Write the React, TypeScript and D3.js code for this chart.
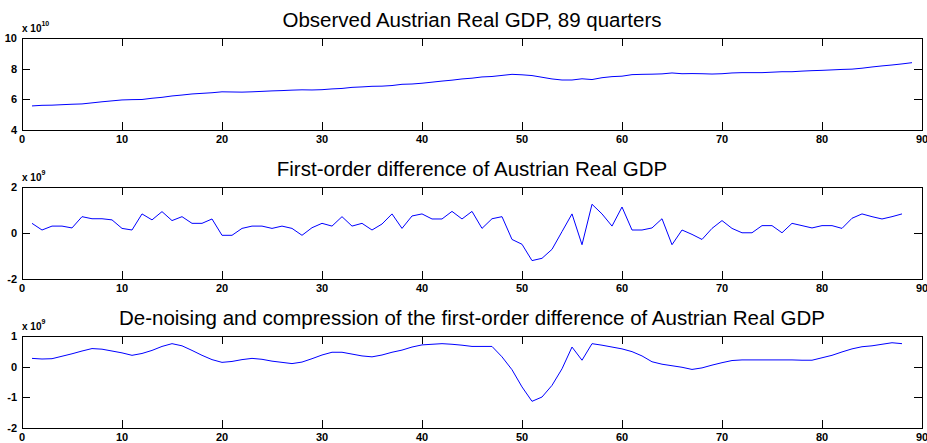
import React, { useEffect, useRef } from 'react';
import * as d3 from 'd3';

// observed real GDP, x 10^10, quarters 1..89
const gdp = [
  5.57, 5.61, 5.62, 5.65, 5.68, 5.70, 5.77, 5.84, 5.90, 5.96,
  5.98, 5.99, 6.07, 6.13, 6.22, 6.28, 6.35, 6.39, 6.43, 6.49,
  6.48, 6.47, 6.49, 6.52, 6.55, 6.57, 6.60, 6.62, 6.61, 6.63,
  6.68, 6.71, 6.78, 6.81, 6.85, 6.86, 6.90, 6.98, 7.00, 7.05,
  7.12, 7.19, 7.25, 7.33, 7.38, 7.46, 7.49, 7.56, 7.63, 7.60,
  7.55, 7.44, 7.33, 7.26, 7.26, 7.34, 7.29, 7.41, 7.48, 7.51,
  7.61, 7.63, 7.64, 7.66, 7.72, 7.67, 7.68, 7.67, 7.65, 7.67,
  7.72, 7.74, 7.74, 7.74, 7.77, 7.80, 7.80, 7.84, 7.87, 7.89,
  7.92, 7.95, 7.97, 8.03, 8.11, 8.18, 8.24, 8.31, 8.39
];

// first-order difference, x 10^9
const gdpDiff = [
  0.42, 0.13, 0.30, 0.30, 0.22, 0.71, 0.62, 0.62, 0.57, 0.20,
  0.13, 0.83, 0.57, 0.93, 0.54, 0.71, 0.42, 0.42, 0.61, -0.10,
  -0.10, 0.20, 0.30, 0.30, 0.20, 0.30, 0.20, -0.10, 0.23, 0.42,
  0.30, 0.71, 0.30, 0.42, 0.13, 0.39, 0.83, 0.20, 0.74, 0.83,
  0.61, 0.61, 0.94, 0.61, 0.94, 0.20, 0.62, 0.71, -0.28, -0.49,
  -1.20, -1.10, -0.71, 0.06, 0.83, -0.51, 1.25, 0.83, 0.30, 1.13,
  0.13, 0.13, 0.22, 0.62, -0.51, 0.13, -0.06, -0.28, 0.20, 0.54,
  0.20, 0.01, 0.01, 0.32, 0.32, 0.01, 0.42, 0.32, 0.22, 0.32,
  0.32, 0.20, 0.64, 0.83, 0.71, 0.61, 0.71, 0.83
];

// de-noised and compressed difference, x 10^9
const gdpDenoised = [
  0.27, 0.25, 0.26, 0.34, 0.42, 0.51, 0.59, 0.57, 0.51, 0.45,
  0.37, 0.43, 0.53, 0.66, 0.75, 0.68, 0.53, 0.37, 0.23, 0.14,
  0.17, 0.23, 0.27, 0.24, 0.18, 0.14, 0.10, 0.15, 0.26, 0.38,
  0.47, 0.47, 0.41, 0.35, 0.32, 0.38, 0.47, 0.54, 0.64, 0.71,
  0.73, 0.75, 0.73, 0.70, 0.66, 0.66, 0.66, 0.32, -0.10, -0.66,
  -1.13, -0.99, -0.61, -0.07, 0.64, 0.21, 0.75, 0.70, 0.64, 0.58,
  0.49, 0.35, 0.16, 0.08, 0.03, -0.02, -0.09, -0.04, 0.05, 0.13,
  0.20, 0.22, 0.22, 0.22, 0.22, 0.22, 0.22, 0.21, 0.21, 0.29,
  0.37, 0.48, 0.58, 0.65, 0.68, 0.73, 0.78, 0.75
];

const xTicks = [0, 10, 20, 30, 40, 50, 60, 70, 80, 90];
const titles = [
  'Observed Austrian Real GDP, 89 quarters',
  'First-order difference of Austrian Real GDP',
  'De-noising and compression of the first-order difference of Austrian Real GDP'
];
const exponents = ['10', '9', '9'];
const yTicks = [[4, 6, 8, 10], [-2, 0, 2], [-2, -1, 0, 1]];

const W = 927, H = 443;
const left = 22, right = 922, plotH = 92;
const tops = [38, 187, 336];
const font = '"Liberation Sans", Arial, sans-serif';

export default function App() {
  const ref = useRef<SVGSVGElement>(null);

  useEffect(() => {
    const svg = d3.select(ref.current);
    svg.selectAll('*').remove();

    const series = [gdp, gdpDiff, gdpDenoised];
    const x = d3.scaleLinear().domain([0, 90]).range([left, right]);
    const tick = 8;

    series.forEach((values, k) => {
      const top = tops[k];
      const yt = yTicks[k];
      const y = d3.scaleLinear()
        .domain([yt[0], yt[yt.length - 1]])
        .range([top + plotH, top]);
      const g = svg.append('g');

      // title
      g.append('text')
        .attr('x', (left + right) / 2)
        .attr('y', top - 11)
        .attr('text-anchor', 'middle')
        .style('font-family', font)
        .style('font-size', '20.5px')
        .attr('fill', '#000')
        .text(titles[k]);

      // exponent label
      const ex = g.append('text')
        .attr('x', left)
        .attr('y', top - 6)
        .style('font-family', font)
        .style('font-size', '10px')
        .style('font-weight', 'bold')
        .attr('fill', '#000');
      ex.append('tspan').text('x 10');
      ex.append('tspan').attr('dy', -6).style('font-size', '7px').text(exponents[k]);

      // line
      const line = d3.line<number>()
        .x((d, i) => x(i + 1))
        .y(d => y(d));
      g.append('path')
        .datum(values)
        .attr('fill', 'none')
        .attr('stroke', '#0000ff')
        .attr('stroke-width', 1)
        .attr('d', line);

      // x ticks, inward top and bottom
      xTicks.forEach(t => {
        const px = Math.round(x(t)) + 0.5;
        g.append('line').attr('x1', px).attr('x2', px)
          .attr('y1', top).attr('y2', top + tick).attr('stroke', '#000');
        g.append('line').attr('x1', px).attr('x2', px)
          .attr('y1', top + plotH).attr('y2', top + plotH - tick).attr('stroke', '#000');
        g.append('text')
          .attr('x', x(t))
          .attr('y', top + plotH + 13)
          .attr('text-anchor', 'middle')
          .style('font-family', font)
          .style('font-size', '11px')
          .style('font-weight', 'bold')
          .attr('fill', '#000')
          .text(t);
      });

      // y ticks, inward left and right
      yt.forEach(t => {
        const py = Math.round(y(t)) + 0.5;
        g.append('line').attr('x1', left).attr('x2', left + tick)
          .attr('y1', py).attr('y2', py).attr('stroke', '#000');
        g.append('line').attr('x1', right).attr('x2', right - tick)
          .attr('y1', py).attr('y2', py).attr('stroke', '#000');
        g.append('text')
          .attr('x', left - 5)
          .attr('y', y(t))
          .attr('dy', '0.35em')
          .attr('text-anchor', 'end')
          .style('font-family', font)
          .style('font-size', '11px')
          .style('font-weight', 'bold')
          .attr('fill', '#000')
          .text(t);
      });

      // box
      g.append('rect')
        .attr('x', left + 0.5)
        .attr('y', top + 0.5)
        .attr('width', right - left)
        .attr('height', plotH)
        .attr('fill', 'none')
        .attr('stroke', '#000');
    });
  }, []);

  return (
    <svg ref={ref} width={W} height={H}
      style={{ position: 'absolute', left: 0, top: 0, background: '#fff' }} />
  );
}
